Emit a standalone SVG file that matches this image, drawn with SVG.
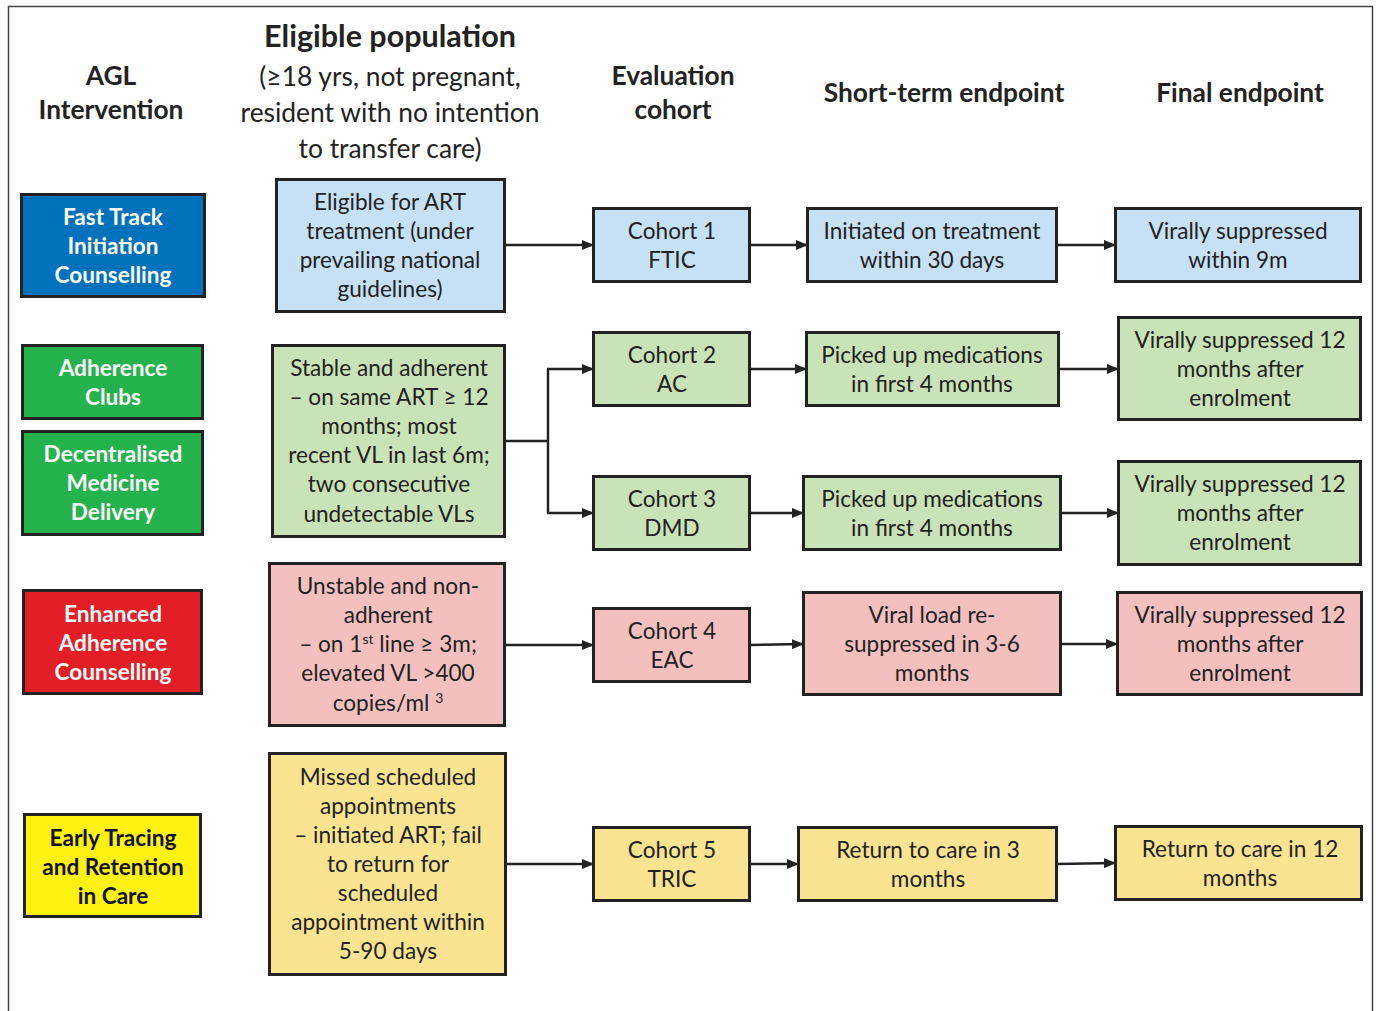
<svg xmlns="http://www.w3.org/2000/svg" width="1376" height="1011" viewBox="0 0 1376 1011">
<style>
text{font-family:Lato,"Open Sans","Liberation Sans",sans-serif;text-anchor:middle;fill:#222}
.h{font-weight:bold;font-size:26.3px}
.h2{font-weight:bold;font-size:30.5px}
.sub{font-size:26.4px}
.t{font-size:22.6px}
.w{font-size:22.6px;font-weight:bold;fill:#fff}
.k{font-size:22.6px;font-weight:bold;fill:#111}
.box{stroke:#222;stroke-width:3}
.blue{fill:#0072BC}.green{fill:#23B24B}.red{fill:#E41E26}.yel{fill:#FFF212}
.lb{fill:#C6E0F5}.lg{fill:#C9E2B7}.lp{fill:#F4C0BF}.ly{fill:#FAE491}
.c{fill:none;stroke:#222;stroke-width:2.5}
</style>
<defs>
<marker id="ah" markerWidth="12" markerHeight="10" refX="11" refY="5" orient="auto" markerUnits="userSpaceOnUse">
<path d="M0,0 L12,5 L0,10 Z" fill="#222"/>
</marker>
</defs>
<rect width="1376" height="1011" fill="#fff"/>
<path d="M8.5,1011 V6.5 H1372.5 V1011" fill="none" stroke="#444" stroke-width="1.5"/>

<g id="headers">
<text class="h" x="111" y="85">AGL</text>
<text class="h" x="111" y="119">Intervention</text>
<text class="h2" x="390" y="47">Eligible population</text>
<text class="sub" x="390" y="86">(≥18 yrs, not pregnant,</text>
<text class="sub" x="390" y="122">resident with no intention</text>
<text class="sub" x="390" y="158">to transfer care)</text>
<text class="h" x="673" y="85">Evaluation</text>
<text class="h" x="673" y="119">cohort</text>
<text class="h" x="944" y="102">Short-term endpoint</text>
<text class="h" x="1240" y="102">Final endpoint</text>
</g>

<g id="connectors">
<line class="c" x1="505" y1="245" x2="593" y2="245" marker-end="url(#ah)"/>
<line class="c" x1="750" y1="245" x2="807" y2="245" marker-end="url(#ah)"/>
<line class="c" x1="1057" y1="245" x2="1115" y2="245" marker-end="url(#ah)"/>
<path class="c" d="M505,441 H548"/>
<path class="c" d="M548,369 V513"/>
<line class="c" x1="547" y1="369" x2="593" y2="369" marker-end="url(#ah)"/>
<line class="c" x1="547" y1="513" x2="593" y2="513" marker-end="url(#ah)"/>
<line class="c" x1="750" y1="369" x2="806" y2="369" marker-end="url(#ah)"/>
<line class="c" x1="1059" y1="369" x2="1118" y2="369" marker-end="url(#ah)"/>
<line class="c" x1="750" y1="513" x2="803" y2="513" marker-end="url(#ah)"/>
<line class="c" x1="1061" y1="513" x2="1118" y2="513" marker-end="url(#ah)"/>
<line class="c" x1="505" y1="645" x2="593" y2="645" marker-end="url(#ah)"/>
<line class="c" x1="750" y1="645" x2="803" y2="644" marker-end="url(#ah)"/>
<line class="c" x1="1061" y1="644" x2="1117" y2="644" marker-end="url(#ah)"/>
<line class="c" x1="506" y1="864" x2="593" y2="864" marker-end="url(#ah)"/>
<line class="c" x1="750" y1="864" x2="798" y2="864" marker-end="url(#ah)"/>
<line class="c" x1="1057" y1="864" x2="1115" y2="863" marker-end="url(#ah)"/>
</g>

<g id="ftic">
<rect class="box blue" x="21.5" y="194.5" width="183" height="102"/>
<text class="w" x="113" y="225">Fast Track</text>
<text class="w" x="113" y="254">Initiation</text>
<text class="w" x="113" y="283">Counselling</text>
</g>
<g id="ac">
<rect class="box green" x="22.5" y="345.5" width="180" height="73"/>
<text class="w" x="113" y="376">Adherence</text>
<text class="w" x="113" y="405">Clubs</text>
</g>
<g id="dmd">
<rect class="box green" x="22.5" y="431.5" width="180" height="103"/>
<text class="w" x="113" y="462">Decentralised</text>
<text class="w" x="113" y="491">Medicine</text>
<text class="w" x="113" y="520">Delivery</text>
</g>
<g id="eac">
<rect class="box red" x="23.5" y="590.5" width="178" height="103"/>
<text class="w" x="113" y="622">Enhanced</text>
<text class="w" x="113" y="651">Adherence</text>
<text class="w" x="113" y="680">Counselling</text>
</g>
<g id="tric">
<rect class="box yel" x="24.5" y="814.5" width="176" height="102"/>
<text class="k" x="113" y="846">Early Tracing</text>
<text class="k" x="113" y="875">and Retention</text>
<text class="k" x="113" y="904">in Care</text>
</g>

<g id="elig1">
<rect class="box lb" x="276.5" y="179.5" width="228" height="132"/>
<text class="t" x="390" y="210">Eligible for ART</text>
<text class="t" x="390" y="239">treatment (under</text>
<text class="t" x="390" y="268">prevailing national</text>
<text class="t" x="390" y="297">guidelines)</text>
</g>
<g id="elig2">
<rect class="box lg" x="272.5" y="345.5" width="232" height="191"/>
<text class="t" x="389" y="376">Stable and adherent</text>
<text class="t" x="389" y="405">– on same ART ≥ 12</text>
<text class="t" x="389" y="434">months; most</text>
<text class="t" x="389" y="463">recent VL in last 6m;</text>
<text class="t" x="389" y="492">two consecutive</text>
<text class="t" x="389" y="522">undetectable VLs</text>
</g>
<g id="elig3">
<rect class="box lp" x="269.5" y="563.5" width="235" height="162"/>
<text class="t" x="388" y="594">Unstable and non-</text>
<text class="t" x="388" y="623">adherent</text>
<text class="t" x="388" y="652">– on 1<tspan font-size="14" dy="-8">st</tspan><tspan dy="8"> line ≥ 3m;</tspan></text>
<text class="t" x="388" y="681">elevated VL &gt;400</text>
<text class="t" x="388" y="711">copies/ml <tspan font-size="14" dy="-8">3</tspan></text>
</g>
<g id="elig4">
<rect class="box ly" x="269.5" y="753.5" width="236" height="221"/>
<text class="t" x="388" y="785">Missed scheduled</text>
<text class="t" x="388" y="814">appointments</text>
<text class="t" x="388" y="843">– initiated ART; fail</text>
<text class="t" x="388" y="872">to return for</text>
<text class="t" x="388" y="901">scheduled</text>
<text class="t" x="388" y="930">appointment within</text>
<text class="t" x="388" y="959">5-90 days</text>
</g>

<g id="cohort1">
<rect class="box lb" x="593.5" y="208.5" width="156" height="73"/>
<text class="t" x="672" y="239">Cohort 1</text>
<text class="t" x="672" y="268">FTIC</text>
</g>
<g id="cohort2">
<rect class="box lg" x="593.5" y="332.5" width="156" height="73"/>
<text class="t" x="672" y="363">Cohort 2</text>
<text class="t" x="672" y="392">AC</text>
</g>
<g id="cohort3">
<rect class="box lg" x="593.5" y="476.5" width="156" height="73"/>
<text class="t" x="672" y="507">Cohort 3</text>
<text class="t" x="672" y="536">DMD</text>
</g>
<g id="cohort4">
<rect class="box lp" x="593.5" y="608.5" width="156" height="73"/>
<text class="t" x="672" y="639">Cohort 4</text>
<text class="t" x="672" y="668">EAC</text>
</g>
<g id="cohort5">
<rect class="box ly" x="593.5" y="827.5" width="156" height="73"/>
<text class="t" x="672" y="858">Cohort 5</text>
<text class="t" x="672" y="887">TRIC</text>
</g>

<g id="short1">
<rect class="box lb" x="807.5" y="208.5" width="249" height="73"/>
<text class="t" x="932" y="239">Initiated on treatment</text>
<text class="t" x="932" y="268">within 30 days</text>
</g>
<g id="short2">
<rect class="box lg" x="806.5" y="332.5" width="252" height="73"/>
<text class="t" x="932" y="363">Picked up medications</text>
<text class="t" x="932" y="392">in first 4 months</text>
</g>
<g id="short3">
<rect class="box lg" x="803.5" y="476.5" width="257" height="73"/>
<text class="t" x="932" y="507">Picked up medications</text>
<text class="t" x="932" y="536">in first 4 months</text>
</g>
<g id="short4">
<rect class="box lp" x="803.5" y="592.5" width="257" height="102"/>
<text class="t" x="932" y="623">Viral load re-</text>
<text class="t" x="932" y="652">suppressed in 3-6</text>
<text class="t" x="932" y="681">months</text>
</g>
<g id="short5">
<rect class="box ly" x="798.5" y="827.5" width="258" height="73"/>
<text class="t" x="928" y="858">Return to care in 3</text>
<text class="t" x="928" y="887">months</text>
</g>

<g id="final1">
<rect class="box lb" x="1115.5" y="208.5" width="245" height="73"/>
<text class="t" x="1238" y="239">Virally suppressed</text>
<text class="t" x="1238" y="268">within 9m</text>
</g>
<g id="final2">
<rect class="box lg" x="1118.5" y="317.5" width="242" height="102"/>
<text class="t" x="1240" y="348">Virally suppressed 12</text>
<text class="t" x="1240" y="377">months after</text>
<text class="t" x="1240" y="406">enrolment</text>
</g>
<g id="final3">
<rect class="box lg" x="1118.5" y="461.5" width="242" height="103"/>
<text class="t" x="1240" y="492">Virally suppressed 12</text>
<text class="t" x="1240" y="521">months after</text>
<text class="t" x="1240" y="550">enrolment</text>
</g>
<g id="final4">
<rect class="box lp" x="1117.5" y="592.5" width="244" height="102"/>
<text class="t" x="1240" y="623">Virally suppressed 12</text>
<text class="t" x="1240" y="652">months after</text>
<text class="t" x="1240" y="681">enrolment</text>
</g>
<g id="final5">
<rect class="box ly" x="1115.5" y="826.5" width="246" height="73"/>
<text class="t" x="1240" y="857">Return to care in 12</text>
<text class="t" x="1240" y="886">months</text>
</g>
</svg>
